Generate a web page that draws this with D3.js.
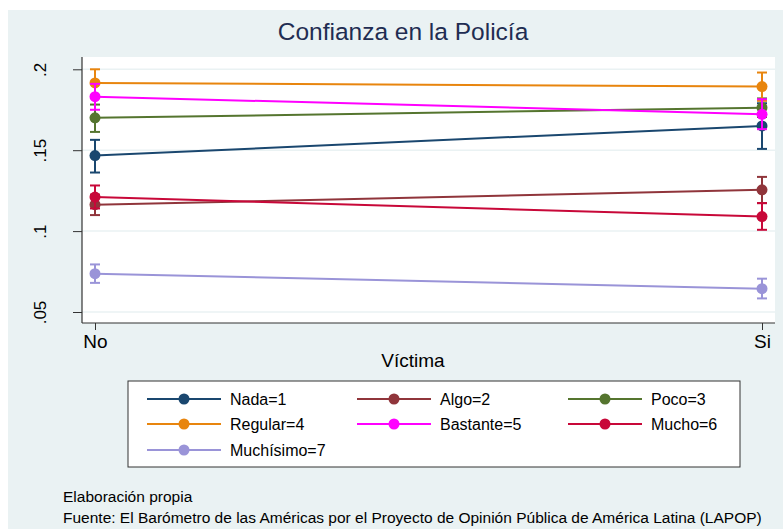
<!DOCTYPE html>
<html>
<head>
<meta charset="utf-8">
<script src="https://cdn.jsdelivr.net/npm/d3@7"></script>
<style>
  body { margin: 0; background: #ffffff; }
  text { font-family: "Liberation Sans", Arial, sans-serif; }
</style>
</head>
<body>
<div id="my_dataviz"></div>
<script>

// data
var categories = ["No", "Si"];
var seriesNames = ["Nada=1", "Algo=2", "Poco=3", "Regular=4", "Bastante=5", "Mucho=6", "Muchísimo=7"];
var seriesColors = ["#1a476f", "#90353b", "#55752f", "#e8850e", "#ff00ff", "#c80839", "#9a94d8"];

var means = [
    [0.1467, 0.1650],
    [0.1163, 0.1255],
    [0.1700, 0.1763],
    [0.1916, 0.1893],
    [0.1831, 0.1722],
    [0.1210, 0.1090],
    [0.0737, 0.0644]
];
var lower = [
    [0.1362, 0.1508],
    [0.1099, 0.1173],
    [0.1613, 0.1705],
    [0.1830, 0.1805],
    [0.1750, 0.1630],
    [0.1140, 0.1008],
    [0.0680, 0.0584]
];
var upper = [
    [0.1564, 0.1790],
    [0.1225, 0.1335],
    [0.1782, 0.1820],
    [0.2000, 0.1980],
    [0.1910, 0.1815],
    [0.1282, 0.1173],
    [0.0794, 0.0706]
];
var yTicks = [0.05, 0.1, 0.15, 0.2];
var yTickLabels = [".05", ".1", ".15", ".2"];

var title = "Confianza en la Policía";
var xTitle = "Víctima";
var notes = ["Elaboración propia",
    "Fuente: El Barómetro de las Américas por el Proyecto de Opinión Pública de América Latina (LAPOP)"];

var W = 784, H = 529;
var plot = {left: 82, right: 775, top: 57, bottom: 323};

var svg = d3.select("#my_dataviz")
    .append("svg")
    .attr("width", W)
    .attr("height", H);

// outer background
svg.append("rect")
    .attr("x", 8).attr("y", 10)
    .attr("width", W - 9).attr("height", H - 10)
    .attr("fill", "#eaf2f3");

// plot region
svg.append("rect")
    .attr("x", plot.left).attr("y", plot.top)
    .attr("width", plot.right - plot.left).attr("height", plot.bottom - plot.top)
    .attr("fill", "#ffffff");

var x = d3.scalePoint()
    .domain(categories)
    .range([95, 762]);

var y = d3.scaleLinear()
    .domain([0.05, 0.2])
    .range([312, 69.3]);

// grid lines
svg.selectAll("line.grid")
    .data(yTicks)
    .enter().append("line")
    .attr("class", "grid")
    .attr("x1", plot.left).attr("x2", plot.right)
    .attr("y1", function(d) { return y(d); })
    .attr("y2", function(d) { return y(d); })
    .attr("stroke", "#eaf2f3")
    .attr("stroke-width", 1.5);

// Y axis
var yAxis = svg.append("g")
    .attr("transform", "translate(" + plot.left + ",0)")
    .call(d3.axisLeft(y).tickValues(yTicks).tickSize(9).tickFormat(function(d, i) { return yTickLabels[i]; }));
yAxis.select(".domain").remove();
yAxis.selectAll(".tick line").attr("stroke", "#333");
yAxis.selectAll(".tick text")
    .attr("font-size", 17)
    .attr("fill", "#000")
    .attr("text-anchor", "middle")
    .attr("x", 0).attr("y", 0).attr("dy", 0)
    .attr("transform", "translate(-36,0) rotate(-90)");
svg.append("line")
    .attr("x1", plot.left).attr("x2", plot.left)
    .attr("y1", plot.top).attr("y2", plot.bottom)
    .attr("stroke", "#333").attr("stroke-width", 1.2);

// X axis
var xAxis = svg.append("g")
    .attr("transform", "translate(0," + plot.bottom + ")")
    .call(d3.axisBottom(x).tickSize(7).tickPadding(5));
xAxis.select(".domain").remove();
xAxis.selectAll(".tick line").attr("stroke", "#333");
xAxis.selectAll(".tick text").attr("font-size", 19).attr("fill", "#000");
svg.append("line")
    .attr("x1", plot.left).attr("x2", plot.right)
    .attr("y1", plot.bottom).attr("y2", plot.bottom)
    .attr("stroke", "#333").attr("stroke-width", 1.2);

svg.append("text")
    .attr("x", 413).attr("y", 367)
    .attr("text-anchor", "middle")
    .attr("font-size", 19)
    .text(xTitle);

svg.append("text")
    .attr("x", 403).attr("y", 40)
    .attr("text-anchor", "middle")
    .attr("font-size", 24.5)
    .attr("fill", "#1f2d52")
    .text(title);

// series: error caps, lines, markers
var series = seriesNames.map(function(name, i) {
    return {
        name: name,
        color: seriesColors[i],
        pts: categories.map(function(c, j) {
            return {cat: c, m: means[i][j], lo: lower[i][j], hi: upper[i][j]};
        })
    };
});

var line = d3.line()
    .x(function(d) { return x(d.cat); })
    .y(function(d) { return y(d.m); });

var g = svg.selectAll("g.series")
    .data(series)
    .enter().append("g")
    .attr("class", "series");

g.each(function(s) {
    var gs = d3.select(this);
    s.pts.forEach(function(p) {
        var cx = x(p.cat);
        gs.append("line")
            .attr("x1", cx).attr("x2", cx)
            .attr("y1", y(p.lo)).attr("y2", y(p.hi))
            .attr("stroke", s.color).attr("stroke-width", 2);
        [p.lo, p.hi].forEach(function(v) {
            gs.append("line")
                .attr("x1", cx - 5).attr("x2", cx + 5)
                .attr("y1", y(v)).attr("y2", y(v))
                .attr("stroke", s.color).attr("stroke-width", 2);
        });
    });
    gs.append("path")
        .datum(s.pts)
        .attr("d", line)
        .attr("fill", "none")
        .attr("stroke", s.color)
        .attr("stroke-width", 2);
    gs.selectAll("circle")
        .data(s.pts)
        .enter().append("circle")
        .attr("cx", function(d) { return x(d.cat); })
        .attr("cy", function(d) { return y(d.m); })
        .attr("r", 5.5)
        .attr("fill", s.color);
});

// legend
svg.append("rect")
    .attr("x", 128).attr("y", 381)
    .attr("width", 612).attr("height", 86)
    .attr("fill", "#ffffff")
    .attr("stroke", "#333")
    .attr("stroke-width", 1);

var colX = [147, 357, 568];
var rowY = [399, 424, 450];

var leg = svg.selectAll("g.legend")
    .data(series)
    .enter().append("g")
    .attr("class", "legend")
    .attr("transform", function(d, i) {
        return "translate(" + colX[i % 3] + "," + rowY[Math.floor(i / 3)] + ")";
    });
leg.append("line")
    .attr("x1", 0).attr("x2", 74)
    .attr("y1", 0).attr("y2", 0)
    .attr("stroke", function(d) { return d.color; })
    .attr("stroke-width", 2);
leg.append("circle")
    .attr("cx", 37).attr("cy", 0).attr("r", 5.5)
    .attr("fill", function(d) { return d.color; });
leg.append("text")
    .attr("x", 83).attr("y", 5.5)
    .attr("font-size", 16)
    .text(function(d) { return d.name; });

// notes
svg.selectAll("text.note")
    .data(notes)
    .enter().append("text")
    .attr("class", "note")
    .attr("x", 63)
    .attr("y", function(d, i) { return 502 + i * 21; })
    .attr("font-size", 15.5)
    .text(function(d) { return d; });

</script>
</body>
</html>
